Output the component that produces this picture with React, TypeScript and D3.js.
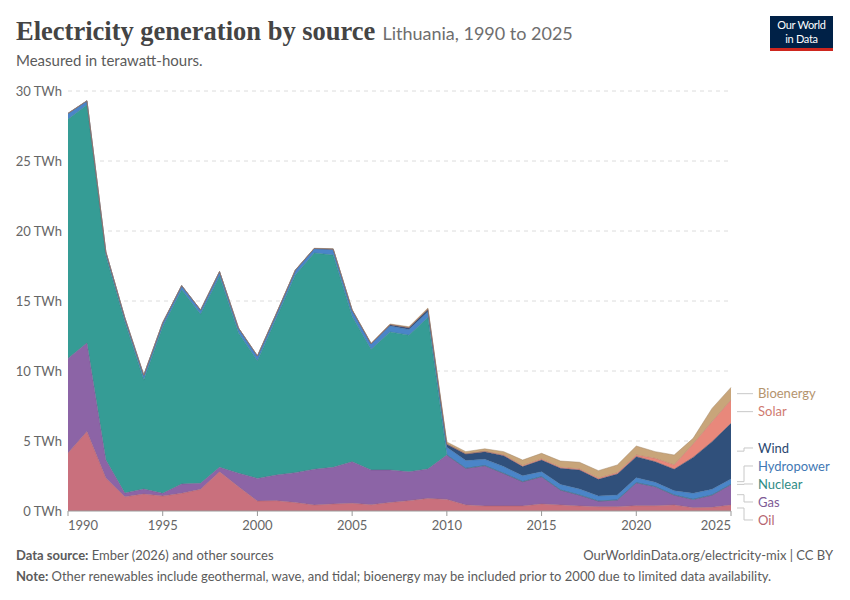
import React from "react";
import * as d3 from "d3";

const years = d3.range(1990, 2026);

const oil = [4.14, 5.67, 2.35, 1.02, 1.21, 1.07, 1.26, 1.55, 2.81, 1.74, 0.71, 0.74, 0.6, 0.43, 0.5, 0.55, 0.45, 0.6, 0.74, 0.9, 0.83, 0.43, 0.36, 0.36, 0.36, 0.5, 0.43, 0.36, 0.31, 0.31, 0.38, 0.38, 0.43, 0.24, 0.26, 0.43];
const gas = [6.76, 6.33, 1.29, 0.26, 0.36, 0.19, 0.67, 0.43, 0.31, 0.96, 1.62, 1.83, 2.14, 2.55, 2.62, 2.97, 2.48, 2.33, 2.06, 2.1, 3.17, 2.62, 2.88, 2.33, 1.74, 1.95, 1.07, 0.78, 0.4, 0.48, 1.64, 1.36, 0.71, 0.59, 0.88, 1.47];
const nuclear = [17.08, 17.0, 14.56, 12.22, 7.78, 11.89, 13.87, 12.07, 13.63, 10.02, 8.39, 11.21, 14.11, 15.45, 15.16, 10.38, 8.6, 9.86, 9.76, 10.82, 0, 0, 0, 0, 0, 0, 0, 0, 0, 0, 0, 0, 0, 0, 0, 0];
const hydro = [0.42, 0.3, 0.3, 0.3, 0.35, 0.3, 0.3, 0.3, 0.35, 0.35, 0.35, 0.32, 0.35, 0.32, 0.42, 0.45, 0.4, 0.42, 0.4, 0.42, 0.55, 0.55, 0.45, 0.48, 0.42, 0.36, 0.4, 0.43, 0.36, 0.35, 0.36, 0.31, 0.31, 0.43, 0.41, 0.39];
const wind = [0, 0, 0, 0, 0, 0, 0, 0, 0, 0, 0, 0, 0, 0, 0, 0, 0.01, 0.1, 0.13, 0.16, 0.22, 0.47, 0.55, 0.78, 0.65, 0.83, 1.15, 1.36, 1.19, 1.5, 1.5, 1.47, 1.53, 2.57, 3.4, 3.97];
const solar = [0, 0, 0, 0, 0, 0, 0, 0, 0, 0, 0, 0, 0, 0, 0, 0, 0, 0, 0, 0, 0, 0, 0.01, 0.05, 0.07, 0.07, 0.07, 0.07, 0.09, 0.09, 0.12, 0.24, 0.31, 0.96, 1.43, 1.67];
const bioenergy = [0, 0, 0, 0, 0, 0, 0, 0, 0, 0, 0.02, 0.02, 0.02, 0.02, 0.03, 0.04, 0.05, 0.05, 0.07, 0.1, 0.16, 0.17, 0.19, 0.24, 0.4, 0.41, 0.45, 0.48, 0.53, 0.56, 0.64, 0.48, 0.71, 0.4, 0.95, 0.9];

const seriesNames = ["Oil", "Gas", "Nuclear", "Hydropower", "Wind", "Solar", "Bioenergy"];
const seriesValues = [oil, gas, nuclear, hydro, wind, solar, bioenergy];
const colors = ["#c9707d", "#8c64a6", "#359c95", "#4a85c8", "#30507b", "#e8887b", "#c8a57a"];
const yTicks = [0, 5, 10, 15, 20, 25, 30];
const xTicks = [1990, 1995, 2000, 2005, 2010, 2015, 2020, 2025];

const rows = years.map((year, i) => {
  const r: Record<string, number> = { year };
  seriesNames.forEach((n, k) => (r[n] = seriesValues[k][i]));
  return r;
});

const W = 850;
const H = 600;
const left = 68;
const right = 731;
const top = 91;
const bottom = 511;

const font = "Lato, 'Noto Sans', sans-serif";

// spread labels so they don't overlap (groups centred on their mean)
function placeLabels(wanted: number[], gap: number) {
  const order = wanted.map((y, i) => ({ y, i })).sort((a, b) => a.y - b.y);
  let groups = order.map((o) => ({ items: [o], pos: o.y }));
  let changed = true;
  while (changed) {
    changed = false;
    for (let g = 0; g < groups.length - 1; g++) {
      const a = groups[g];
      const b = groups[g + 1];
      const aEnd = a.pos + (a.items.length - 1) * gap;
      if (b.pos - aEnd < gap - 0.5) {
        const items = a.items.concat(b.items);
        const mean = d3.mean(items, (d) => d.y)!;
        groups.splice(g, 2, { items, pos: mean - ((items.length - 1) * gap) / 2 });
        changed = true;
        break;
      }
    }
  }
  const out: number[] = [];
  groups.forEach((g) => g.items.forEach((it, k) => (out[it.i] = g.pos + k * gap)));
  return out;
}

export default function App() {
  const x = d3.scaleLinear().domain([1990, 2025]).range([left, right]);
  const y = d3.scaleLinear().domain([0, 30]).range([bottom, top]);

  const stack = d3.stack<Record<string, number>>().keys(seriesNames)(rows);
  const area = d3
    .area<d3.SeriesPoint<Record<string, number>>>()
    .x((d) => x(d.data.year))
    .y0((d) => y(d[0]))
    .y1((d) => y(d[1]));
  const line = d3
    .line<d3.SeriesPoint<Record<string, number>>>()
    .x((d) => x(d.data.year))
    .y((d) => y(d[1]));

  const last = stack.map((s) => s[s.length - 1]);
  const mids = last.map((p) => y((p[0] + p[1]) / 2));
  const labelY = placeLabels(mids, 18);

  return (
    <svg width={W} height={H} style={{ position: "absolute", left: 0, top: 0, background: "#fff" }}>
      {/* header */}
      <text x={16} y={40} fontFamily="'Liberation Serif', 'DejaVu Serif', serif" fontWeight="bold" fontSize={26.5} fill="#444">
        Electricity generation by source
        <tspan fontFamily={font} fontWeight="normal" fontSize={18} fill="#6e6e6e" dx={7}>
          Lithuania, 1990 to 2025
        </tspan>
      </text>
      <text x={16} y={66} fontFamily={font} fontSize={15} fill="#5b5b5b">
        Measured in terawatt-hours.
      </text>

      {/* logo */}
      <rect x={770} y={16} width={63} height={35} fill="#002147" />
      <rect x={770} y={48} width={63} height={3} fill="#ce261e" />
      <text x={801.5} y={28.5} textAnchor="middle" fontFamily={font} fontSize={11} fill="#fff" letterSpacing={-0.3}>
        Our World
      </text>
      <text x={801.5} y={43} textAnchor="middle" fontFamily={font} fontSize={11} fill="#fff" letterSpacing={-0.3}>
        in Data
      </text>

      {/* grid + y axis */}
      {yTicks.map((t) => (
        <g key={t}>
          {t > 0 && (
            <line x1={left} x2={right} y1={y(t)} y2={y(t)} stroke="#dcdcdc" strokeDasharray="4,4" />
          )}
          <text x={62} y={y(t)} dy="0.35em" textAnchor="end" fontFamily={font} fontSize={13} fill="#666">
            {t} TWh
          </text>
        </g>
      ))}

      {/* areas */}
      {stack.map((s, k) => (
        <path key={seriesNames[k]} d={area(s)!} fill={colors[k]} />
      ))}
      {stack.map((s, k) => (
        <path
          key={"l" + seriesNames[k]}
          d={line(s)!}
          fill="none"
          stroke={d3.color(colors[k])!.darker(0.6).formatHex()}
          strokeWidth={0.6}
          strokeOpacity={0.8}
        />
      ))}

      {/* x axis */}
      <line x1={left} x2={right} y1={bottom} y2={bottom} stroke="#999" />
      {xTicks.map((t, i) => (
        <g key={t}>
          <line x1={x(t)} x2={x(t)} y1={bottom} y2={bottom + 5} stroke="#999" />
          <text
            x={i === 0 ? left : i === xTicks.length - 1 ? right : x(t)}
            y={bottom + 19}
            textAnchor={i === 0 ? "start" : i === xTicks.length - 1 ? "end" : "middle"}
            fontFamily={font}
            fontSize={13}
            fill="#666"
          >
            {t}
          </text>
        </g>
      ))}

      {/* legend labels */}
      {seriesNames.map((n, k) => (
        <g key={"lg" + n}>
          <path
            d={`M${right + 6},${mids[k]}H${right + 13}V${labelY[k]}H${right + 22}`}
            fill="none"
            stroke="#c8c8c8"
            strokeWidth={1}
          />
          <text x={right + 27} y={labelY[k]} dy="0.35em" fontFamily={font} fontSize={13} fill={d3.color(colors[k])!.darker(0.3).formatHex()}>
            {n}
          </text>
        </g>
      ))}

      {/* footer */}
      <text x={16} y={560} fontFamily={font} fontSize={13} fill="#5b5b5b">
        <tspan fontWeight="bold">Data source:</tspan> Ember (2026) and other sources
      </text>
      <text x={833} y={560} textAnchor="end" fontFamily={font} fontSize={13} fill="#5b5b5b">
        OurWorldinData.org/electricity-mix | CC BY
      </text>
      <text x={16} y={581} fontFamily={font} fontSize={13} fill="#5b5b5b">
        <tspan fontWeight="bold">Note:</tspan> Other renewables include geothermal, wave, and tidal; bioenergy may be included prior to 2000 due to limited data availability.
      </text>
    </svg>
  );
}
